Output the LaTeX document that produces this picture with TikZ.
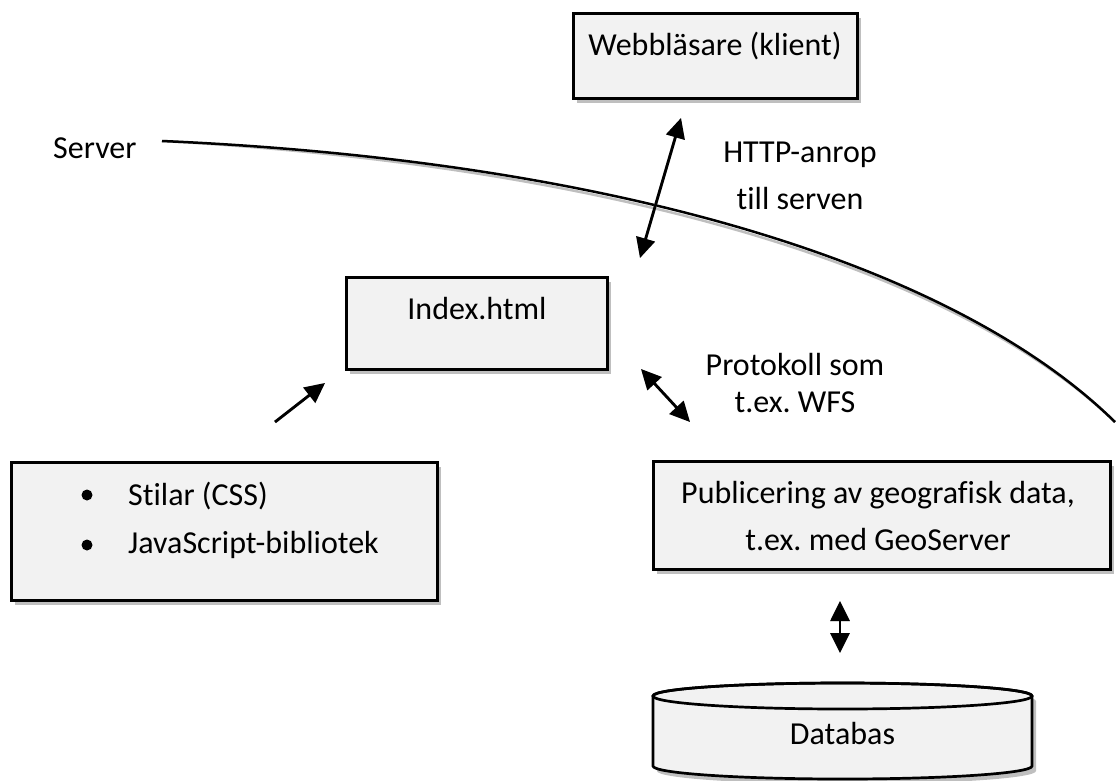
\documentclass[tikz,border=0pt]{standalone}
\usepackage{fontspec}
\setmainfont{Carlito}[Ligatures=NoCommon]
\usetikzlibrary{arrows.meta,shadows}
\definecolor{boxfill}{HTML}{F2F2F2}
\definecolor{shadowgray}{HTML}{BFBFBF}
\frenchspacing
\begin{document}
\begin{tikzpicture}[x=1pt,y=-1pt,
  txt/.style={font=\fontsize{32}{38}\selectfont, inner sep=0pt, anchor=base},
  boxnode/.style={draw=black, line width=3pt, fill=boxfill, inner sep=0pt,
    drop shadow={shadow xshift=4pt, shadow yshift=-5pt, fill=shadowgray, opacity=1}},
  tip/.tip={Triangle[length=20pt,width=19pt]},
  arr/.style={line width=2.8pt, draw=black},
  arrshadow/.style={line width=2.8pt, draw=shadowgray, shift={(3,4)}},
  curveline/.style={line width=2.5pt, draw=black},
  curveshadow/.style={line width=2.5pt, draw=shadowgray, shift={(2,5)}}
]
\useasboundingbox (0,0) rectangle (1116,780);

% boxes
\node[boxnode, minimum width=284pt, minimum height=85pt] (web) at (715,55.5) {};
\node[boxnode, minimum width=261pt, minimum height=92pt] (index) at (476.5,323) {};
\node[boxnode, minimum width=426pt, minimum height=138pt] (stil) at (224,531) {};
\node[boxnode, minimum width=457pt, minimum height=108pt] (pub) at (881.5,515) {};

% box texts
\node[txt] (webt) at (715,55) {Webbläsare (klient)};
\node[txt] (indext) at (477,319) {Index.html};
\node[txt] (pubt1) at (878,503) {Publicering av geografisk data,};
\node[txt] (pubt2) at (878,550) {t.ex. med GeoServer};
\fill (87,495) circle (5.5);
\fill (87,545) circle (5.5);
\node[txt, anchor=base west] (stil1) at (128,505) {Stilar (CSS)};
\node[txt, anchor=base west] (stil2) at (128,553) {JavaScript-bibliotek};

% free labels
\node[txt, anchor=base west] (server) at (53,158) {Server};
\node[txt] (http1) at (800,162) {HTTP-anrop};
\node[txt] (http2) at (800,209) {till serven};
\node[txt] (proto1) at (795,375) {Protokoll som};
\node[txt] (proto2) at (795,412) {t.ex. WFS};

% database cylinder
\fill[shadowgray, shift={(4,5)}] (653,696) -- (653,766)
  .. controls (653,773.18) and (737.84,779) .. (842.5,779)
  .. controls (947.16,779) and (1032,773.18) .. (1032,766) -- (1032,696)
  .. controls (1032,688.82) and (947.16,683) .. (842.5,683)
  .. controls (737.84,683) and (653,688.82) .. (653,696) -- cycle;
\filldraw[fill=boxfill, draw=black, line width=2.7pt] (653,696) -- (653,766)
  .. controls (653,773.18) and (737.84,779) .. (842.5,779)
  .. controls (947.16,779) and (1032,773.18) .. (1032,766) -- (1032,696)
  .. controls (1032,688.82) and (947.16,683) .. (842.5,683)
  .. controls (737.84,683) and (653,688.82) .. (653,696) -- cycle;
\draw[black, line width=2.7pt] (842.5,696) ellipse [x radius=189.5, y radius=13];
\node[txt] (db) at (842.5,744) {Databas};

% server boundary curve
\coordinate (c0) at (162,141);
\coordinate (c1) at (1115,422);
\draw[curveshadow] (c0) .. controls (600,160) and (950,260) .. (c1);
\draw[curveline] (c0) .. controls (600,160) and (950,260) .. (c1);

% arrow end points
\coordinate (h1) at (640,258);
\coordinate (h2) at (681,118);
\coordinate (p1) at (641,369);
\coordinate (p2) at (690,422);
\coordinate (s1) at (275,422);
\coordinate (s2) at (325,383);
\coordinate (d1) at (840,601);
\coordinate (d2) at (840,653);

\draw[arrshadow, {tip}-{tip}, shadowgray] (h1) -- (h2);
\draw[arrshadow, {tip}-{tip}, shadowgray] (p1) -- (p2);
\draw[arrshadow, -{tip}, shadowgray] (s1) -- (s2);
\draw[arrshadow, {tip}-{tip}, shadowgray] (d1) -- (d2);
\draw[arr, {tip}-{tip}] (h1) -- (h2);
\draw[arr, {tip}-{tip}] (p1) -- (p2);
\draw[arr, -{tip}] (s1) -- (s2);
\draw[arr, {tip}-{tip}] (d1) -- (d2);
\end{tikzpicture}
\end{document}
